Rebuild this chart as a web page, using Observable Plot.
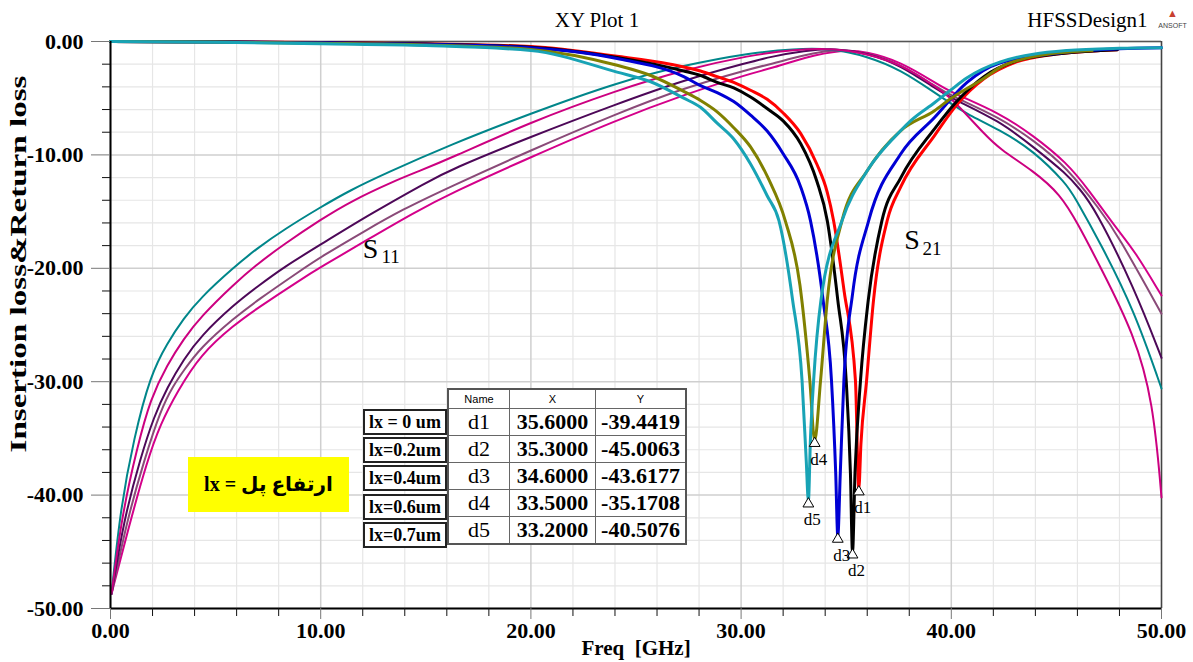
<!DOCTYPE html>
<html><head><meta charset="utf-8">
<script src="https://cdn.jsdelivr.net/npm/d3@7"></script>
<script src="https://cdn.jsdelivr.net/npm/@observablehq/plot@0.6"></script>
<style>
body{margin:0;background:#fff;}
#wrap{position:relative;width:1193px;height:662px;font-family:"Liberation Serif","Times New Roman",serif;overflow:hidden;}
#wrap svg{position:absolute;left:0;top:0;}
.tbl{position:absolute;left:447px;top:388px;border-collapse:collapse;border:2px solid #555;background:#fff;}
.tbl td{border:1.5px solid #666;text-align:center;padding:0;line-height:1;}
.tbl tr.hd td{height:18px;font-family:"Liberation Sans",Arial,sans-serif;font-size:11px;}
.tbl tr.rw td{height:26px;font-size:22px;}
.tbl td.nm{width:60px;}
.tbl td.vx{width:85px;font-weight:bold;}
.tbl td.vy{width:89px;font-weight:bold;}
.lab{position:absolute;left:363px;width:80px;height:22px;border:2px solid #222;background:#fff;font-weight:bold;font-size:18px;text-align:center;line-height:22px;}
.yel{position:absolute;left:188px;top:457px;width:161px;height:55px;background:#ffff00;font-weight:bold;font-size:20px;text-align:center;line-height:55px;font-family:"Liberation Serif","DejaVu Sans",serif;}
</style></head><body><div id="wrap"></div><script>
// ---------- data ----------
const S21_lx0 = [[0,0],[5,-0.03],[10,-0.08],[15,-0.2],[20,-0.45],[24.1,-1.3],[26.64,-2.0],[28.07,-2.6],[28.86,-3.1],[29.65,-3.6],[30.45,-4.3],[31.24,-5.1],[32.0,-6.3],[32.83,-8.1],[33.6,-10.8],[34.1,-13.3],[34.4,-15.8],[34.9,-22.0],[35.44,-29.9],[35.6,-39.44],[35.7,-35.5],[35.97,-29.9],[36.3,-22.8],[36.95,-15.8],[37.6,-12.8],[39.2,-8.3],[40.3,-5.5],[41.55,-3.3],[43.1,-1.8],[45,-1.1],[47.1,-0.8],[47.9,-0.73]];
const S21_lx02 = [[0,0],[5,-0.03],[10,-0.1],[15,-0.22],[20,-0.5],[24.1,-1.4],[27.27,-2.6],[28.07,-3.0],[28.86,-3.6],[29.65,-4.1],[30.45,-4.9],[31.3,-6.0],[32.0,-7.0],[32.83,-9.0],[33.6,-12.3],[34.1,-15.8],[34.6,-22.8],[35.0,-29.9],[35.2,-38],[35.3,-45.0],[35.42,-38],[35.68,-29.9],[36.05,-22.8],[36.7,-15.8],[37.6,-12.0],[39.2,-7.7],[40.3,-5.2],[41.55,-3.1],[43.1,-1.7],[45,-1.1],[47.1,-0.8],[47.9,-0.73]];
const S21_lx04 = [[0,0],[5,-0.04],[10,-0.1],[15,-0.25],[20,-0.55],[24.1,-1.5],[27.27,-3.1],[28.07,-3.9],[28.86,-4.5],[29.65,-5.3],[30.45,-6.5],[31.24,-7.9],[32.0,-9.9],[32.83,-12.8],[33.3,-15.8],[33.9,-22.8],[34.3,-29.9],[34.5,-38],[34.6,-43.6],[34.72,-38],[34.89,-29.9],[35.3,-22.3],[36.07,-15.8],[37.6,-9.9],[39.2,-6.7],[40.75,-3.6],[42.3,-1.9],[45.5,-0.95],[48,-0.65],[50,-0.55]];
const S21_lx06 = [[0,0],[5,-0.05],[10,-0.15],[15,-0.3],[20,-0.7],[24.1,-2.1],[25.7,-3.0],[27.27,-4.4],[28.07,-5.2],[28.86,-6.2],[29.65,-7.6],[30.45,-9.3],[31.3,-12.1],[32.1,-15.8],[32.8,-21.5],[33.27,-29.9],[33.5,-35.17],[33.78,-29.9],[34.1,-22.8],[34.8,-15.8],[36,-11.4],[37.6,-7.85],[39.2,-6.1],[39.96,-5.05],[41.5,-3.3],[42.3,-2.3],[44,-1.3],[46.7,-0.8]];
const S21_lx07 = [[0,0],[5,-0.06],[10,-0.2],[15,-0.35],[20,-0.8],[24.1,-2.7],[25.7,-3.55],[27.27,-5.0],[28.07,-5.8],[28.86,-7.2],[29.65,-8.6],[30.45,-10.8],[31.24,-13.6],[31.8,-15.8],[32.45,-22.8],[32.9,-29.9],[33.1,-37],[33.2,-40.5],[33.3,-35],[33.45,-29.9],[33.8,-22.8],[34.8,-15.8],[36,-11.4],[37.6,-7.85],[38.06,-7.0],[39.2,-5.4],[39.96,-4.3],[40.75,-3.2],[42.34,-1.8],[45.5,-0.8],[48,-0.6],[50,-0.55]];

const S11_a = [[0.05,-48.7],[0.48,-41.1],[1.11,-35.0],[1.9,-29.4],[2.7,-26.6],[3.49,-24.4],[4.28,-22.6],[5.87,-19.9],[7,-18.2],[8.24,-16.6],[10,-14.6],[11.42,-13.1],[13.0,-11.7],[16.17,-9.1],[19.98,-6.35],[24.1,-3.6],[27.27,-2.1],[30.45,-1.0],[32.5,-0.65],[34.3,-0.6],[36,-1.3],[37.6,-2.5],[39.2,-4.5],[40,-5.5],[40.75,-6.4],[42.3,-7.8],[43.9,-9.6],[45.5,-12.6],[45.83,-13.6],[47.1,-17.8],[48.7,-23.7],[50,-30.6]];
const S11_b = [[0.05,-48.7],[0.56,-41.6],[1.27,-35.8],[1.9,-31.5],[2.7,-28.5],[3.49,-26.2],[4.28,-24.3],[5.87,-21.4],[7,-19.6],[8.24,-17.9],[10,-15.7],[11.42,-14.1],[13.5,-12.3],[14.59,-11.5],[16.17,-10.3],[19.98,-7.1],[24.1,-4.3],[27.27,-2.5],[30.45,-1.2],[32.5,-0.7],[34.5,-0.6],[36,-1.1],[37.6,-2.0],[39.2,-3.9],[40,-5.0],[40.75,-6.5],[41.5,-8.0],[42.3,-9.5],[43.9,-11.4],[45.2,-13.5],[46,-16],[47.1,-19.9],[48.7,-25.8],[49.6,-31.7],[50,-40.2]];
const S11_c = [[0.05,-48.7],[0.63,-42.2],[1.43,-36.7],[2.06,-33.1],[2.7,-30.5],[3.49,-28.0],[4.28,-26.0],[5.87,-23.2],[7,-21.6],[8.24,-19.9],[10,-17.9],[12.37,-15.2],[15.06,-12.4],[16.17,-11.3],[19.98,-8.4],[24.1,-5.5],[27.27,-3.4],[30.45,-1.8],[31.4,-1.35],[33,-0.8],[34.5,-0.6],[36,-1.0],[37.6,-2.1],[39.2,-4.1],[40,-5.0],[42.3,-7.0],[43.9,-9.3],[45.5,-11.7],[46.1,-13.0],[46.8,-14.6],[48.7,-21.7],[50,-27.9]];
const S11_d = [[0.05,-48.7],[0.79,-42.2],[1.59,-37],[2.38,-32.5],[3.0,-30.3],[3.49,-29.0],[4.28,-27.0],[5.87,-24.4],[7,-22.8],[9.04,-20.2],[10,-19.0],[12.2,-16.6],[13.8,-14.9],[16.17,-12.8],[19.98,-9.6],[24.1,-6.35],[27.27,-4.1],[30.45,-2.4],[31.4,-2.0],[33,-1.2],[34.5,-0.65],[36,-1.0],[37.6,-2.0],[39.2,-3.9],[40,-4.8],[42.3,-6.7],[43.9,-8.7],[45.5,-11.1],[47.1,-14.9],[47.9,-17],[50,-24.0]];
const S11_e = [[0.05,-48.7],[0.87,-42.8],[1.74,-37],[2.38,-33.7],[3.17,-30.9],[4.28,-27.6],[5.87,-25.0],[7,-23.5],[9.04,-21.0],[10,-19.9],[12.2,-17.5],[14.43,-15.1],[16.17,-13.4],[19.98,-10.2],[24.1,-6.9],[27.27,-4.7],[30.45,-2.8],[31.4,-2.4],[33,-1.4],[34.8,-0.7],[36,-0.9],[37.6,-1.8],[39.2,-3.6],[40,-4.5],[42.3,-6.3],[43.9,-8.3],[45.5,-10.7],[46.5,-13.0],[47.9,-16.6],[48.7,-18.4],[50,-22.4]];

const markerNames = ["d1","d2","d3","d4","d5"];
const markerFreq = [35.6, 35.3, 34.6, 33.5, 33.2];
const markerDb = [-39.4419, -45.0063, -43.6177, -35.1708, -40.5076];
const lxLabels = ["lx = 0 um","lx=0.2um","lx=0.4um","lx=0.6um","lx=0.7um"];

const xTicksMajor = [0,10,20,30,40,50];
const yTicksMajor = [-50,-40,-30,-20,-10,0];
const xLabel = "Freq\u00a0\u00a0[GHz]";
const yLabel = "Insertion loss&Return loss";
const title = "XY Plot 1";
const design = "HFSSDesign1";
const curveNames = [{t:"S", sub:"11", f:12.37, db:-18.3}, {t:"S", sub:"21", f:38.13, db:-17.55}];

// ---------- styling ----------
const s21 = [
  {pts:S21_lx0, color:"#ff0000"},
  {pts:S21_lx02, color:"#000000"},
  {pts:S21_lx04, color:"#0000d4"},
  {pts:S21_lx06, color:"#808000"},
  {pts:S21_lx07, color:"#18a3b5"}
];
const s11 = [
  {pts:S11_e, color:"#d4008a"},
  {pts:S11_d, color:"#8a4a78"},
  {pts:S11_c, color:"#4d0858"},
  {pts:S11_a, color:"#00868a"},
  {pts:S11_b, color:"#cc0080"}
];
const toRows = a => a.map(([f,db]) => ({f, db}));
const markers = markerNames.map((n,i) => ({n, f:markerFreq[i], db:markerDb[i]}));

const serif = "Liberation Serif, Times New Roman, serif";
const minorX = d3.range(0,51,2).filter(d => d % 10 !== 0);
const minorY = d3.range(-50,1,2).filter(d => d % 10 !== 0);

const marks = [
  Plot.ruleX(minorX, {stroke:"#e6e6e6", strokeWidth:1.2}),
  Plot.ruleY(minorY, {stroke:"#e6e6e6", strokeWidth:1.2}),
  Plot.ruleX(xTicksMajor, {stroke:"#cfcfcf", strokeWidth:1.5}),
  Plot.ruleY(yTicksMajor, {stroke:"#cfcfcf", strokeWidth:1.5}),
  Plot.ruleY([0], {stroke:"#555", strokeWidth:1.5}),
  Plot.ruleX([50], {stroke:"#444", strokeWidth:1.5}),
  ...s11.map(s => Plot.line(toRows(s.pts), {x:"f", y:"db", stroke:s.color, strokeWidth:2, curve:"basis"})),
  ...s21.map(s => Plot.line(toRows(s.pts), {x:"f", y:"db", stroke:s.color, strokeWidth:3, curve:"monotone-x"})),
  Plot.ruleX([0], {stroke:"#000", strokeWidth:2}),
  Plot.ruleY([-50], {stroke:"#000", strokeWidth:2}),
  Plot.axisY({ticks:minorY, tickSize:8, tickFormat:() => "", stroke:"#111"}),
  Plot.axisY({ticks:yTicksMajor, tickSize:19, tickPadding:8, tickFormat:d => d.toFixed(2), stroke:"#777", fill:"#000", fontSize:22, fontWeight:"bold", fontFamily:serif}),
  Plot.axisX({ticks:minorX, tickSize:8, tickFormat:() => "", stroke:"#111"}),
  Plot.axisX({ticks:xTicksMajor, tickSize:11, tickPadding:3, tickFormat:d => d.toFixed(2), stroke:"#777", fill:"#000", fontSize:22, fontWeight:"bold", fontFamily:serif}),
  Plot.dot(markers, {x:"f", y:"db", symbol:"triangle", r:4, fill:"white", stroke:"black", strokeWidth:1, dy:3}),
  Plot.text(markers, {x:"f", y:"db", text:"n", dx:4, dy:19, fontSize:17, fontFamily:serif, fill:"#000"}),
  Plot.text(curveNames, {x:"f", y:"db", text:"t", fontSize:28, fontFamily:serif, fill:"#000"}),
  Plot.text(curveNames, {x:"f", y:"db", text:"sub", dx:20, dy:8, fontSize:19, fontFamily:serif, fill:"#000"}),
  Plot.text([xLabel], {frameAnchor:"bottom", lineAnchor:"middle", dy:40, fontSize:21, fontWeight:"bold", fontFamily:serif, fill:"#000"}),
  Plot.text([yLabel], {frameAnchor:"left", textAnchor:"middle", lineAnchor:"middle", dx:-92, dy:-61, rotate:-90, fontSize:24, fontWeight:"bold", fontFamily:serif, fill:"#000"}),
  Plot.text([title], {frameAnchor:"top", lineAnchor:"middle", dx:-39, dy:-21, fontSize:21, fontFamily:serif, fill:"#000"}),
  Plot.text([design], {frameAnchor:"top-right", lineAnchor:"middle", textAnchor:"end", dx:-14, dy:-21, fontSize:21, fontFamily:serif, fill:"#000"}),
  Plot.text(["\u25B2"], {frameAnchor:"top-right", lineAnchor:"middle", textAnchor:"middle", dx:11, dy:-28, fontSize:11, fill:"#c84030"}),
  Plot.text(["ANSOFT"], {frameAnchor:"top-right", lineAnchor:"middle", textAnchor:"middle", dx:11, dy:-16, fontSize:7, fontFamily:"Liberation Sans, Arial, sans-serif", fill:"#444"})
];

const chart = Plot.plot({
  width:1193, height:662,
  marginLeft:110, marginRight:32, marginTop:41, marginBottom:54,
  x:{domain:[0,50], label:null},
  y:{domain:[-50,0], label:null},
  style:{fontFamily:serif, background:"transparent", overflow:"visible"},
  marks
});
// stretch the y-axis title to the length it has in the reference
chart.querySelectorAll("text").forEach(t => {
  if (t.textContent === yLabel) { t.setAttribute("textLength", "377"); t.setAttribute("lengthAdjust", "spacingAndGlyphs"); }
});
const wrap = document.getElementById("wrap");
wrap.appendChild(chart);

// yellow note
const yel = document.createElement("div");
yel.className = "yel";
yel.dir = "ltr";
yel.textContent = "lx = ارتفاع پل";
wrap.appendChild(yel);

// marker table
const tbl = document.createElement("table");
tbl.className = "tbl";
let html = '<tr class="hd"><td class="nm">Name</td><td style="width:85px">X</td><td style="width:89px">Y</td></tr>';
markers.forEach(m => {
  html += `<tr class="rw"><td class="nm">${m.n}</td><td class="vx">${m.f.toFixed(4)}</td><td class="vy">${m.db.toFixed(4)}</td></tr>`;
});
tbl.innerHTML = html;
wrap.appendChild(tbl);

lxLabels.forEach((t,i) => {
  const d = document.createElement("div");
  d.className = "lab";
  d.style.top = (409 + i*28.2) + "px";
  d.textContent = t;
  wrap.appendChild(d);
});
</script></body></html>
